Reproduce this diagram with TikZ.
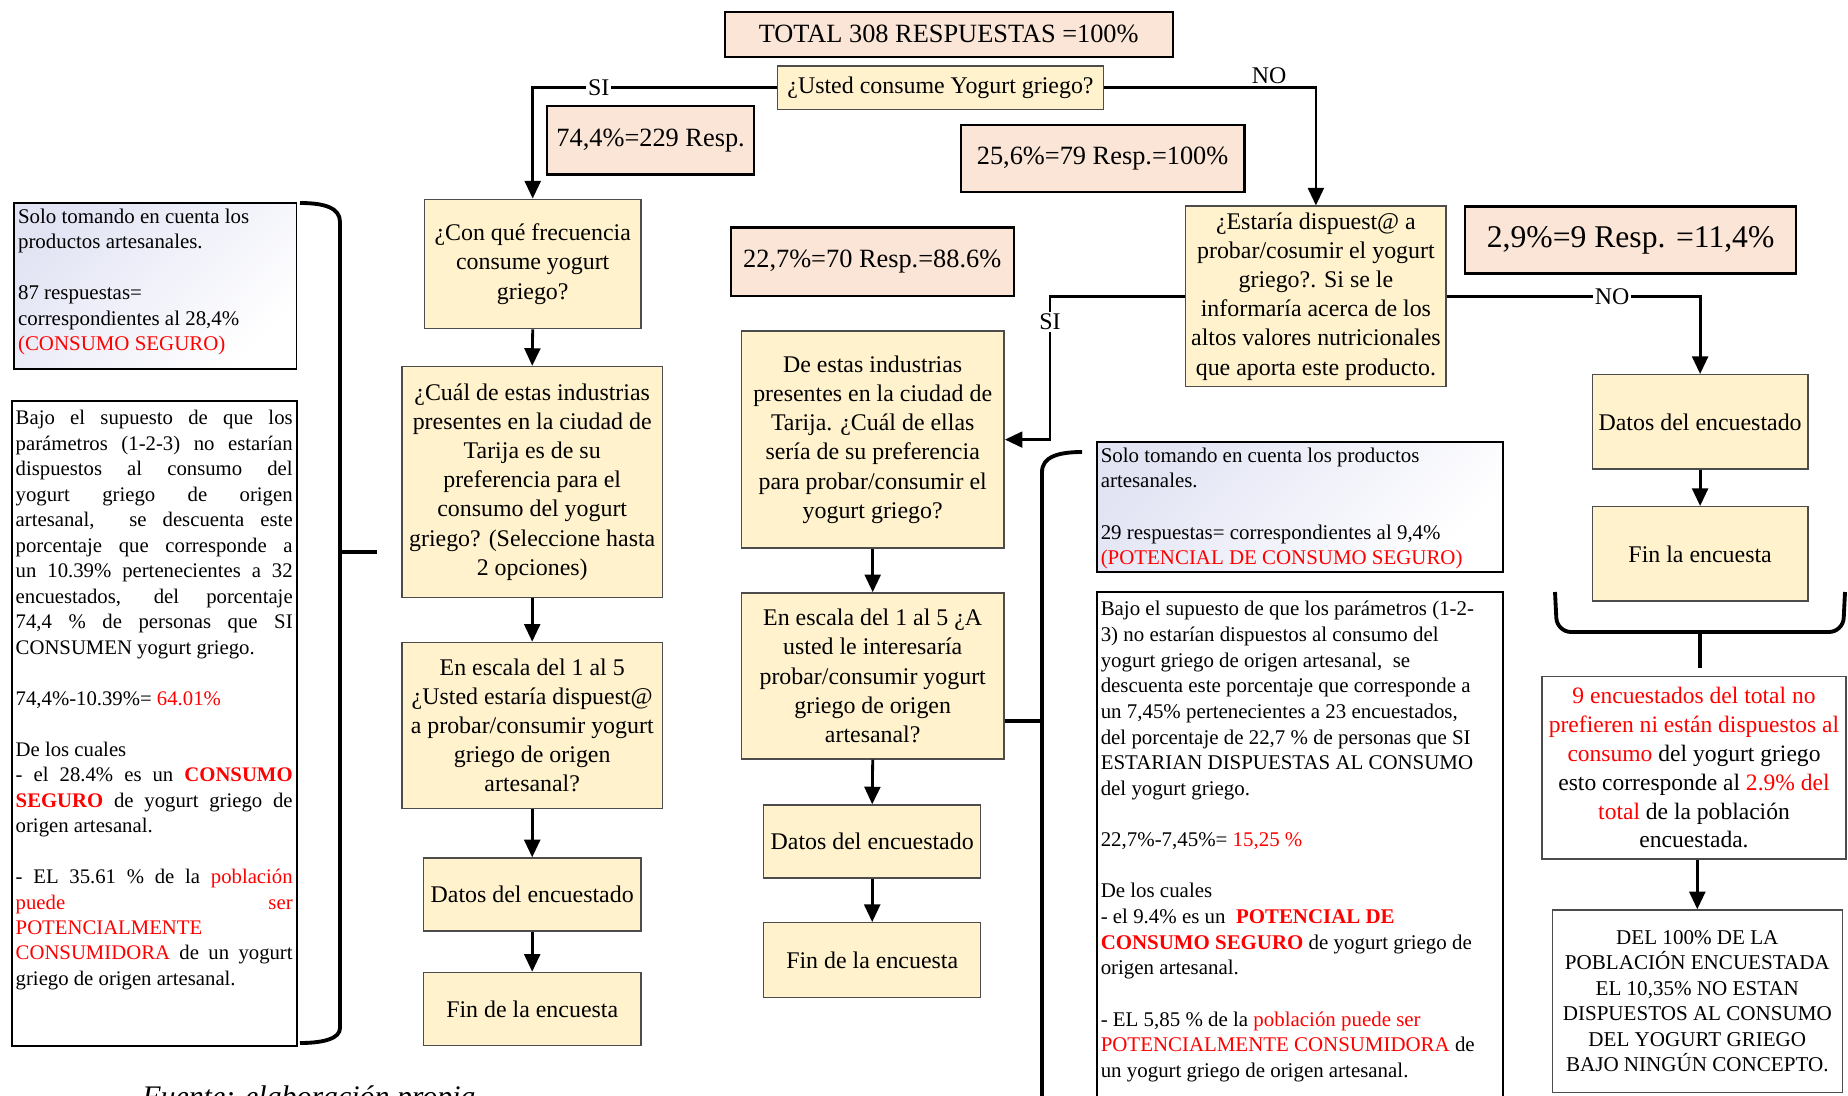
\documentclass[tikz,border=0pt]{standalone}
\usepackage{fontspec}
\setmainfont{Liberation Serif}
\usetikzlibrary{arrows.meta}
\definecolor{salmon}{HTML}{FBE5D6}
\definecolor{yel}{HTML}{FFF2CC}
\definecolor{lav}{HTML}{E2E4F4}
\newcommand{\rojo}[1]{\textcolor{red}{#1}}
\tolerance=10000 \hbadness=10000 \hyphenpenalty=10000 \exhyphenpenalty=10000
\setlength{\parindent}{0pt}

\begin{document}
\begin{tikzpicture}[x=0.02cm, y=-0.02cm,
  pct/.style={draw, line width=1.3pt, fill=salmon, inner sep=0pt, font=\fontsize{15}{18}\selectfont},
  quest/.style={draw=black!70, line width=0.8pt, fill=yel, align=center, inner sep=0pt, font=\fontsize{13.6}{16.6}\selectfont},
  note/.style={draw, line width=1pt, inner xsep=0.08cm, inner ysep=0.12cm, font=\fontsize{11.9}{14.5}\selectfont},
  shadednote/.style={note, top color=lav, bottom color=white, shading angle=45},
  answer/.style={draw=black!70, line width=0.9pt, fill=white, align=center, inner sep=0pt},
  arr/.style={-{Triangle[length=10pt,width=9pt]}, line width=1.6pt},
  lbl/.style={fill=white, inner sep=1pt, font=\fontsize{13.6}{16}\selectfont},
  brace/.style={line width=2.2pt}]

\clip (0,0) rectangle (1848,1095);
\useasboundingbox (0,0) rectangle (1848,1095);

\node[pct, minimum width=8.96cm, minimum height=0.9cm] (total) at (948.7,34.2) {TOTAL 308 RESPUESTAS =100\%};
\node[quest, minimum width=6.51cm, minimum height=0.87cm] (q0) at (940.5,87.8) {¿Usted consume Yogurt griego?};
\node[pct, minimum width=4.15cm, minimum height=1.37cm] (p744) at (650.6,140.3) {74,4\%=229 Resp.};
\node[pct, minimum width=5.68cm, minimum height=1.34cm] (p256) at (1102.6,158.5) {25,6\%=79 Resp.=100\%};
\node[pct, minimum width=5.66cm, minimum height=1.37cm] (p227) at (872.2,261.7) {22,7\%=70 Resp.=88.6\%};
\node[pct, minimum width=6.62cm, minimum height=1.34cm, font=\fontsize{18}{21}\selectfont] (p29) at (1630.6,239.9) {2,9\%=9 Resp. =11,4\%};

\node[quest, minimum width=4.34cm, minimum height=2.59cm] (q1) at (532.7,264) {¿Con qué frecuencia\\consume yogurt\\griego?};
\node[quest, minimum width=5.21cm, minimum height=4.62cm] (q2) at (532.2,482) {¿Cuál de estas industrias\\presentes en la ciudad de\\Tarija es de su\\preferencia para el\\consumo del yogurt\\griego? (Seleccione hasta\\2 opciones)};
\node[quest, minimum width=5.21cm, minimum height=3.32cm] (q3) at (532.2,725.4) {En escala del 1 al 5\\¿Usted estaría dispuest@\\a probar/consumir yogurt\\griego de origen\\artesanal?};
\node[quest, minimum width=4.36cm, minimum height=1.46cm] (d1) at (532.2,894.5) {Datos del encuestado};
\node[quest, minimum width=4.36cm, minimum height=1.46cm] (f1) at (532.2,1008.9) {Fin de la encuesta};

\node[quest, minimum width=5.26cm, minimum height=4.34cm] (m1) at (872.7,439.6) {De estas industrias\\presentes en la ciudad de\\Tarija. ¿Cuál de ellas\\sería de su preferencia\\para probar/consumir el\\yogurt griego?};
\node[quest, minimum width=5.26cm, minimum height=3.32cm] (m2) at (872.7,675.9) {En escala del 1 al 5 ¿A\\usted le interesaría\\probar/consumir yogurt\\griego de origen\\artesanal?};
\node[quest, minimum width=4.34cm, minimum height=1.46cm] (d2) at (872.2,841.5) {Datos del encuestado};
\node[quest, minimum width=4.34cm, minimum height=1.49cm] (f2) at (872.2,960) {Fin de la encuesta};

\node[quest, minimum width=5.21cm, minimum height=3.61cm] (est) at (1315.9,296.4) {¿Estaría dispuest@ a\\probar/cosumir el yogurt\\griego?. Si se le\\informaría acerca de los\\altos valores nutricionales\\que aporta este producto.};
\node[quest, minimum width=4.31cm, minimum height=1.89cm] (d3) at (1700.1,421.9) {Datos del encuestado};
\node[quest, minimum width=4.31cm, minimum height=1.89cm] (f3) at (1700.1,553.9) {Fin la encuesta};

\node[answer, minimum width=6.09cm, minimum height=3.65cm, font=\fontsize{13.4}{16.4}\selectfont] (no9) at (1694,767.8) {\rojo{9 encuestados del total no}\\\rojo{prefieren ni están dispuestos al}\\\rojo{consumo} del yogurt griego\\esto corresponde al \rojo{2.9\% del}\\\rojo{total} de la población\\encuestada.};
\node[answer, minimum width=5.8cm, minimum height=3.65cm, font=\fontsize{12}{14.5}\selectfont] (nunca) at (1697.3,1001.3) {DEL 100\% DE LA\\POBLACIÓN ENCUESTADA\\EL 10,35\% NO ESTAN\\DISPUESTOS AL CONSUMO\\DEL YOGURT GRIEGO\\BAJO NINGÚN CONCEPTO.};

\node[shadednote] (n1) at (155.3,286) {\parbox[c][3.09cm][t]{5.49cm}{Solo tomando en cuenta los\\productos artesanales.\\[14.5pt]87 respuestas=\\correspondientes al 28,4\%\\\rojo{(CONSUMO SEGURO)}}};
\node[note, font=\fontsize{11.8}{14.5}\selectfont] (n2) at (154.2,723.5) {\parbox[c][12.66cm][t]{5.54cm}{\vspace{2pt}Bajo el supuesto de que los\linebreak
parámetros (1-2-3) no estarían\linebreak
dispuestos al consumo del\linebreak
yogurt griego de origen\linebreak
artesanal, \ se descuenta este\linebreak
porcentaje que corresponde a\linebreak
un 10.39\% pertenecientes a 32\linebreak
encuestados, del porcentaje\linebreak
74,4 \% de personas que SI\linebreak
CONSUMEN yogurt griego.\\[14.5pt]
74,4\%-10.39\%= \rojo{64.01\%}\\[14.5pt]
De los cuales\\
- el 28.4\% es un \textbf{\rojo{CONSUMO}}\linebreak
\textbf{\rojo{SEGURO}} de yogurt griego de\linebreak
origen artesanal.\\[14.5pt]
- EL 35.61 \% de la \rojo{población}\linebreak
\rojo{puede ser}\linebreak
\rojo{POTENCIALMENTE}\\
\rojo{CONSUMIDORA} de un yogurt\linebreak
griego de origen artesanal.}};

\node[shadednote, font=\fontsize{11.9}{14.6}\selectfont] (n3) at (1299.7,506.7) {\parbox[c][2.36cm][t]{7.96cm}{Solo tomando en cuenta los productos\\artesanales.\\[14.6pt]29 respuestas= correspondientes al 9,4\%\\\rojo{(POTENCIAL DE CONSUMO SEGURO)}}};
\node[note, font=\fontsize{11.9}{14.6}\selectfont] (n4) at (1299.7,850.9) {\parbox[c][10.13cm][t]{7.96cm}{\vspace{2pt}Bajo el supuesto de que los parámetros (1-2-\\
3) no estarían dispuestos al consumo del\\
yogurt griego de origen artesanal, \ se\\
descuenta este porcentaje que corresponde a\\
un 7,45\% pertenecientes a 23 encuestados,\\
del porcentaje de 22,7 \% de personas que SI\\
ESTARIAN DISPUESTAS AL CONSUMO\\
del yogurt griego.\\[14.6pt]
22,7\%-7,45\%= \rojo{15,25 \%}\\[14.6pt]
De los cuales\\
- el 9.4\% es un \ \textbf{\rojo{POTENCIAL DE}}\\
\textbf{\rojo{CONSUMO SEGURO}} de yogurt griego de\\
origen artesanal.\\[14.6pt]
- EL 5,85 \% de la \rojo{población puede ser}\\
\rojo{POTENCIALMENTE CONSUMIDORA} de\\
un yogurt griego de origen artesanal.}};

\draw[brace] (300,203) .. controls (325,203) and (340,208) .. (340,222) -- (340,1028) .. controls (340,1038) and (325,1043) .. (300,1043);
\draw[brace] (340,551.7) -- (377,551.7);
\draw[brace] (1082,452) .. controls (1058,452) and (1042,457) .. (1042,472) -- (1042,1100);
\draw[brace] (1042,721) -- (m2.east |- 0,721);
\draw[brace, rounded corners=8pt] (1555,592) -- (1557,632) -- (1843,632) -- (1845,592);
\draw[brace] (1700,632) -- (1700,668);

\draw[arr] (q0.west) -| (q1.north);
\node[lbl] (si1) at (598.7,87.8) {SI};
\draw[arr] (q0.east) -| (est.north);
\node[lbl] (no1) at (1269,76) {NO};
\draw[arr] (est.west) -- (est.west -| 1050,0) |- (m1.east);
\node[lbl] (si2) at (1050,322) {SI};
\draw[arr] (est.east) -| (d3.north);
\node[lbl] (no2) at (1612,296.4) {NO};

\draw[arr] (q1.south) -- (q2.north);
\draw[arr] (q2.south) -- (q3.north);
\draw[arr] (q3.south) -- (d1.north);
\draw[arr] (d1.south) -- (f1.north);
\draw[arr] (m1.south) -- (m2.north);
\draw[arr] (m2.south) -- (d2.north);
\draw[arr] (d2.south) -- (f2.north);
\draw[arr] (d3.south) -- (f3.north);
\draw[arr] (no9.south -| nunca.north) -- (nunca.north);

\node[font=\fontsize{17}{20}\selectfont\itshape, anchor=base west, inner sep=0pt] (fuente) at (142,1106) {Fuente: elaboración propia};

\end{tikzpicture}
\end{document}
